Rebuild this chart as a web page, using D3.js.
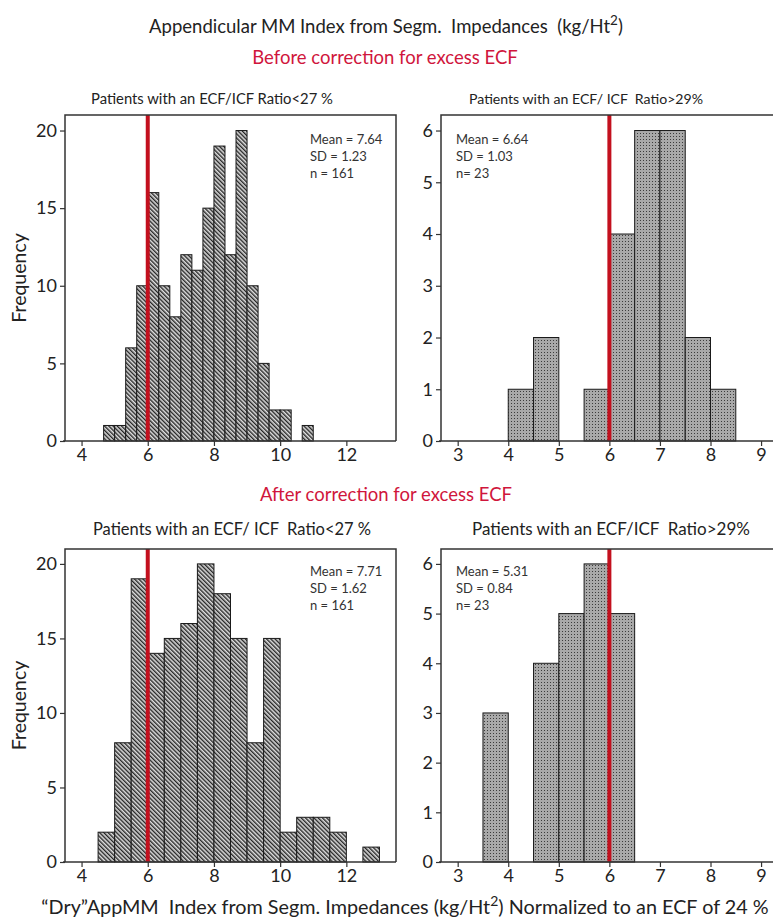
<!DOCTYPE html>
<html>
<head>
<meta charset="utf-8">
<script src="https://cdn.jsdelivr.net/npm/d3@7"></script>
<style>
  body { margin: 0; background: #fff; }
  svg { display: block; font-family: Lato, "Open Sans", sans-serif; }
  text { white-space: pre; }
</style>
</head>
<body>
<svg id="chart" width="773" height="918"></svg>
<script>
// histogram counts
var topLeftCounts = [1, 1, 6, 10, 16, 10, 8, 12, 11, 15, 19, 12, 20, 10, 5, 2, 2, 0, 1];   // bins of 1/3 from 14/3
var topRightCounts = [1, 2, 0, 1, 4, 6, 6, 2, 1];                                           // bins of 0.5 from 4
var bottomLeftCounts = [2, 8, 19, 14, 15, 16, 20, 18, 15, 8, 15, 2, 3, 3, 2, 0, 1];         // bins of 0.5 from 4.5
var bottomRightCounts = [3, 0, 4, 5, 6, 5];                                                  // bins of 0.5 from 3.5

var leftXTicks = [4, 6, 8, 10, 12];
var rightXTicks = [3, 4, 5, 6, 7, 8, 9];
var leftYTicks = [0, 5, 10, 15, 20];
var rightYTicks = [0, 1, 2, 3, 4, 5, 6];

var topLeftStats = ["Mean = 7.64", "SD = 1.23", "n = 161"];
var topRightStats = ["Mean = 6.64", "SD = 1.03", "n= 23"];
var bottomLeftStats = ["Mean = 7.71", "SD = 1.62", "n = 161"];
var bottomRightStats = ["Mean = 5.31", "SD = 0.84", "n= 23"];

var cutoff = 6;

var svg = d3.select("#chart");
var defs = svg.append("defs");

// diagonal hatch for the <27 % panels
var hatch = defs.append("pattern")
    .attr("id", "hatch")
    .attr("patternUnits", "userSpaceOnUse")
    .attr("width", 3).attr("height", 3)
    .attr("patternTransform", "rotate(-45)");
hatch.append("rect").attr("width", 3).attr("height", 3).attr("fill", "#dedede");
hatch.append("line").attr("x1", 0.7).attr("y1", 0).attr("x2", 0.7).attr("y2", 3)
    .attr("stroke", "#262626").attr("stroke-width", 1.4);

// stipple for the >29 % panels
var dots = defs.append("pattern")
    .attr("id", "dots")
    .attr("patternUnits", "userSpaceOnUse")
    .attr("width", 3).attr("height", 3);
dots.append("rect").attr("width", 3).attr("height", 3).attr("fill", "#a9a9a9");
dots.append("rect").attr("x", 1).attr("y", 1).attr("width", 1).attr("height", 1).attr("fill", "#3c3c3c");

function makeBins(counts, start, width) {
    return counts.map(function(c, i) {
        return { x0: start + i * width, x1: start + (i + 1) * width, n: c };
    });
}

function drawPanel(p) {
    var g = svg.append("g");
    var x = d3.scaleLinear().domain(p.xDomain).range([p.left, p.right]);
    var y = d3.scaleLinear().domain(p.yDomain).range([p.bottom, p.top]);

    var bins = makeBins(p.counts, p.binStart, p.binWidth).filter(function(d) { return d.n > 0; });

    g.selectAll("rect.bar")
        .data(bins)
        .enter().append("rect")
        .attr("class", "bar")
        .attr("x", function(d) { return x(d.x0); })
        .attr("y", function(d) { return y(d.n); })
        .attr("width", function(d) { return x(d.x1) - x(d.x0); })
        .attr("height", function(d) { return y(0) - y(d.n); })
        .attr("fill", "url(#" + p.pattern + ")")
        .attr("stroke", "#1a1a1a")
        .attr("stroke-width", 1);

    // red cut-off line
    g.append("line")
        .attr("x1", x(cutoff)).attr("x2", x(cutoff))
        .attr("y1", p.top).attr("y2", p.bottom)
        .attr("stroke", "#c3101e").attr("stroke-width", 4);

    // frame
    g.append("path")
        .attr("d", "M" + p.left + "," + p.bottom + "V" + p.top + "H" + p.right + "V" + p.bottom)
        .attr("fill", "none").attr("stroke", "#333").attr("stroke-width", 1.5);
    g.append("line")
        .attr("x1", p.left - 2).attr("x2", p.right)
        .attr("y1", p.bottom).attr("y2", p.bottom)
        .attr("stroke", "#333").attr("stroke-width", 1.5);

    var xa = g.append("g")
        .attr("transform", "translate(0," + p.bottom + ")")
        .call(d3.axisBottom(x).tickValues(p.xTicks).tickSize(5).tickPadding(2).tickFormat(d3.format("d")));
    var ya = g.append("g")
        .attr("transform", "translate(" + p.left + ",0)")
        .call(d3.axisLeft(y).tickValues(p.yTicks).tickSize(5).tickPadding(3).tickFormat(d3.format("d")));
    [xa, ya].forEach(function(a) {
        a.select(".domain").remove();
        a.selectAll("line").attr("stroke", "#333").attr("stroke-width", 1.2);
        a.selectAll("text").attr("font-size", 18).attr("fill", "#222")
            .attr("font-family", "Lato, sans-serif");
    });

    // subtitle
    svg.append("text")
        .attr("x", p.titleX).attr("y", p.titleY)
        .attr("text-anchor", "middle")
        .attr("font-size", p.titleSize).attr("fill", "#222")
        .text(p.title);

    // stats box
    g.append("g").selectAll("text")
        .data(p.stats)
        .enter().append("text")
        .attr("x", p.statsX)
        .attr("y", function(d, i) { return p.statsY + i * 17; })
        .attr("font-size", 13).attr("fill", "#333")
        .text(function(d) { return d; });

    if (p.yLabel) {
        svg.append("text")
            .attr("transform", "translate(26," + ((p.top + p.bottom) / 2) + ") rotate(-90)")
            .attr("text-anchor", "middle")
            .attr("font-size", 19.5).attr("fill", "#222")
            .text("Frequency");
    }
}

var leftDomain = [3.5, 13.5];
var rightDomain = [2.67, 9.77];

drawPanel({
    counts: topLeftCounts, binStart: 14 / 3, binWidth: 1 / 3, pattern: "hatch",
    xDomain: leftDomain, yDomain: [0, 21], xTicks: leftXTicks, yTicks: leftYTicks,
    left: 65, right: 396, top: 115, bottom: 441,
    title: "Patients with an ECF/ICF Ratio<27 %", titleX: 212, titleY: 104, titleSize: 14.8,
    stats: topLeftStats, statsX: 310, statsY: 144, yLabel: true
});
drawPanel({
    counts: topRightCounts, binStart: 4, binWidth: 0.5, pattern: "dots",
    xDomain: rightDomain, yDomain: [0, 6.3], xTicks: rightXTicks, yTicks: rightYTicks,
    left: 441, right: 800, top: 115, bottom: 441,
    title: "Patients with an ECF/ ICF  Ratio>29%", titleX: 586, titleY: 104, titleSize: 14.1,
    stats: topRightStats, statsX: 456, statsY: 144, yLabel: false
});
drawPanel({
    counts: bottomLeftCounts, binStart: 4.5, binWidth: 0.5, pattern: "hatch",
    xDomain: leftDomain, yDomain: [0, 21], xTicks: leftXTicks, yTicks: leftYTicks,
    left: 65, right: 396, top: 549, bottom: 862,
    title: "Patients with an ECF/ ICF  Ratio<27 %", titleX: 232, titleY: 535, titleSize: 16.5,
    stats: bottomLeftStats, statsX: 310, statsY: 576, yLabel: true
});
drawPanel({
    counts: bottomRightCounts, binStart: 3.5, binWidth: 0.5, pattern: "dots",
    xDomain: rightDomain, yDomain: [0, 6.3], xTicks: rightXTicks, yTicks: rightYTicks,
    left: 441, right: 800, top: 549, bottom: 862,
    title: "Patients with an ECF/ICF  Ratio>29%", titleX: 611, titleY: 535, titleSize: 17,
    stats: bottomRightStats, statsX: 456, statsY: 576, yLabel: false
});

// headings
var t1 = svg.append("text")
    .attr("x", 386).attr("y", 33)
    .attr("text-anchor", "middle").attr("font-size", 18.5).attr("fill", "#222");
t1.append("tspan").text("Appendicular MM Index from Segm.  Impedances  (kg/Ht");
t1.append("tspan").attr("baseline-shift", "super").attr("font-size", 13.5).text("2");
t1.append("tspan").text(")");

svg.append("text")
    .attr("x", 385).attr("y", 64)
    .attr("text-anchor", "middle").attr("font-size", 18.5).attr("fill", "#d0163c")
    .text("Before correction for excess ECF");

svg.append("text")
    .attr("x", 386).attr("y", 501)
    .attr("text-anchor", "middle").attr("font-size", 18.5).attr("fill", "#d0163c")
    .text("After correction for excess ECF");

var xl = svg.append("text")
    .attr("x", 405).attr("y", 914)
    .attr("text-anchor", "middle").attr("font-size", 19.8).attr("fill", "#222");
xl.append("tspan").text("\u201CDry\u201DAppMM  Index from Segm. Impedances (kg/Ht");
xl.append("tspan").attr("baseline-shift", "super").attr("font-size", 14).text("2");
xl.append("tspan").text(") Normalized to an ECF of 24 %");
</script>
</body>
</html>
